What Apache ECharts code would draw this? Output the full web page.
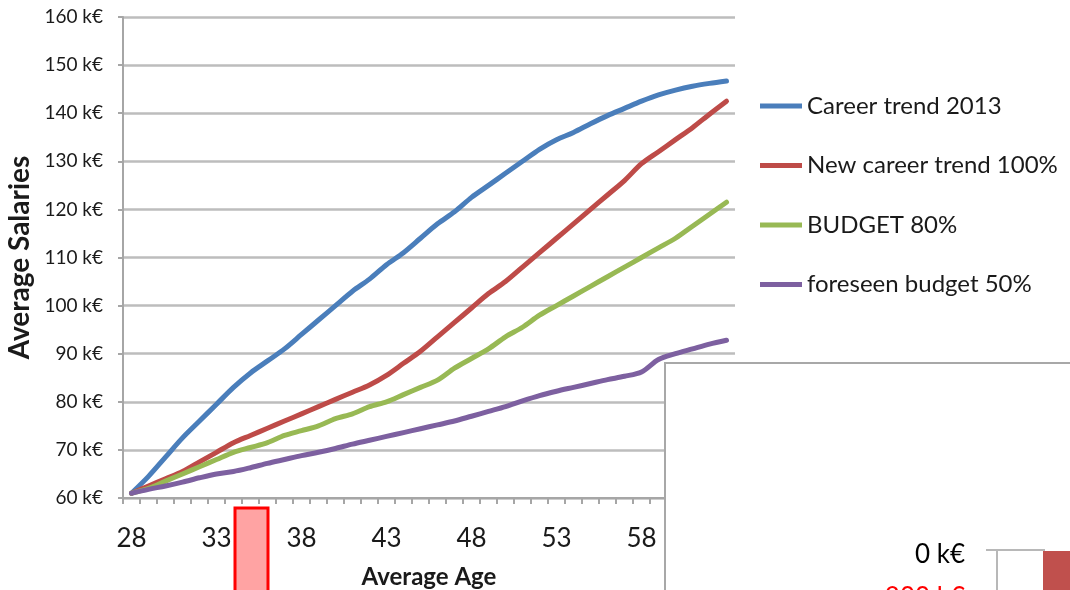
<!DOCTYPE html>
<html>
<head>
<meta charset="utf-8">
<script src="https://cdn.jsdelivr.net/npm/echarts@6/dist/echarts.min.js"></script>
<style>
html,body{margin:0;padding:0;background:#fff;}
#chart{width:1070px;height:590px;}
</style>
</head>
<body>
<div id="chart"></div>
<script>
const ages = ['28','29','30','31','32','33','34','35','36','37','38','39','40','41','42','43','44','45','46','47','48','49','50','51','52','53','54','55','56','57','58','59','60','61','62','63'];
const seriesNames = ['Career trend 2013','New career trend 100%','BUDGET 80%','foreseen budget 50%'];
const careerTrend2013 = [61,64.5,68.5,72.5,76,79.5,83,86,88.5,91,94,97,100,103,105.5,108.5,111,114,117,119.5,122.5,125,127.5,130,132.5,134.5,136,137.8,139.5,141,142.5,143.8,144.8,145.6,146.2,146.7];
const newCareerTrend = [61,62.5,64,65.5,67.5,69.5,71.5,73,74.5,76,77.5,79,80.5,82,83.5,85.5,88,90.5,93.5,96.5,99.5,102.5,105,108,111,114,117,120,123,126,129.5,132,134.5,137,139.8,142.5];
const budget80 = [61,62,63.5,65,66.5,68,69.5,70.5,71.5,73,74,75,76.5,77.5,79,80,81.5,83,84.5,87,89,91,93.5,95.5,98,100,102,104,106,108,110,112,114,116.5,119,121.5];
const foreseen50 = [61,61.8,62.5,63.3,64.2,65,65.5,66.3,67.2,68,68.8,69.5,70.3,71.2,72,72.8,73.6,74.4,75.2,76,77,78,79,80.2,81.3,82.2,83,83.8,84.6,85.3,86.2,88.8,90,91,92,92.8];
const yTicks = {min:60, max:160, interval:10};
const colors = ['#4a7ebb','#be4b48','#98b954','#7d60a0'];
const seriesData = [careerTrend2013, newCareerTrend, budget80, foreseen50];

const FONT = 'Lato, "Open Sans", sans-serif';
const chart = echarts.init(document.getElementById('chart'), null, {renderer:'canvas'});
chart.setOption({
  animation:false,
  backgroundColor:'#ffffff',
  color: colors,
  grid:{left:123, right:335, top:17, bottom:92, containLabel:false, outerBoundsMode:'none'},
  legend:{
    orient:'vertical', left:755, top:88,
    icon:'rect', itemWidth:42, itemHeight:5, itemGap:33.5,
    textStyle:{fontFamily:FONT, fontSize:24, color:'#1a1a1a', lineHeight:26},
    data: seriesNames
  },
  xAxis:{
    type:'category', data:ages, boundaryGap:true,
    name:'Average Age', nameLocation:'middle', nameGap:67,
    nameTextStyle:{fontFamily:FONT, fontSize:24, fontWeight:'bold', color:'#1a1a1a'},
    axisLine:{lineStyle:{color:'#a6a6a6', width:2}},
    axisTick:{show:true, interval:0, length:6, lineStyle:{color:'#a6a6a6', width:2}},
    axisLabel:{interval:4, margin:28, fontFamily:FONT, fontSize:26, color:'#1a1a1a'},
    splitLine:{show:false}
  },
  yAxis:{
    type:'value', min:yTicks.min, max:yTicks.max, interval:yTicks.interval,
    name:'Average Salaries', nameLocation:'middle', nameGap:82, nameRotate:90,
    nameTextStyle:{fontFamily:FONT, fontSize:28, fontWeight:'bold', color:'#1a1a1a'},
    axisLine:{show:true, lineStyle:{color:'#a6a6a6', width:2}},
    axisTick:{show:true, length:5, lineStyle:{color:'#a6a6a6', width:2}},
    axisLabel:{margin:20, fontFamily:FONT, fontSize:19, color:'#1a1a1a', formatter:v=>v+' k€'},
    splitLine:{show:true, lineStyle:{color:'#bdbdbd', width:2.5}}
  },
  series: seriesNames.map((n,i)=>({
    name:n, type:'line', data:seriesData[i], smooth:0.3, showSymbol:false, symbol:'none',
    lineStyle:{width:5, color:colors[i], cap:'round', join:'round'},
    itemStyle:{color:colors[i]}
  })),
  graphic:[
    {type:'rect', z:100, shape:{x:665, y:363, width:420, height:240}, style:{fill:'#ffffff', stroke:'#a8a8a8', lineWidth:2}},
    {type:'text', z:101, style:{x:965, y:555, text:'0 k€', fill:'#000', font:'26px '+FONT, textAlign:'right', textVerticalAlign:'middle'}},
    {type:'text', z:101, style:{x:965, y:598, text:'-200 k€', fill:'#ff0000', font:'26px '+FONT, textAlign:'right', textVerticalAlign:'middle'}},
    {type:'line', z:101, shape:{x1:986, y1:550, x2:1045, y2:550}, style:{stroke:'#b8b8b8', lineWidth:2}},
    {type:'line', z:101, shape:{x1:997, y1:550, x2:997, y2:600}, style:{stroke:'#b8b8b8', lineWidth:2}},
    {type:'rect', z:101, shape:{x:1043, y:551, width:40, height:50}, style:{fill:'#c0504d'}},
    {type:'rect', z:100, shape:{x:235, y:508, width:33, height:90}, style:{fill:'#ffa3a3', stroke:'#ff0000', lineWidth:3}}
  ]
});
</script>
</body>
</html>
